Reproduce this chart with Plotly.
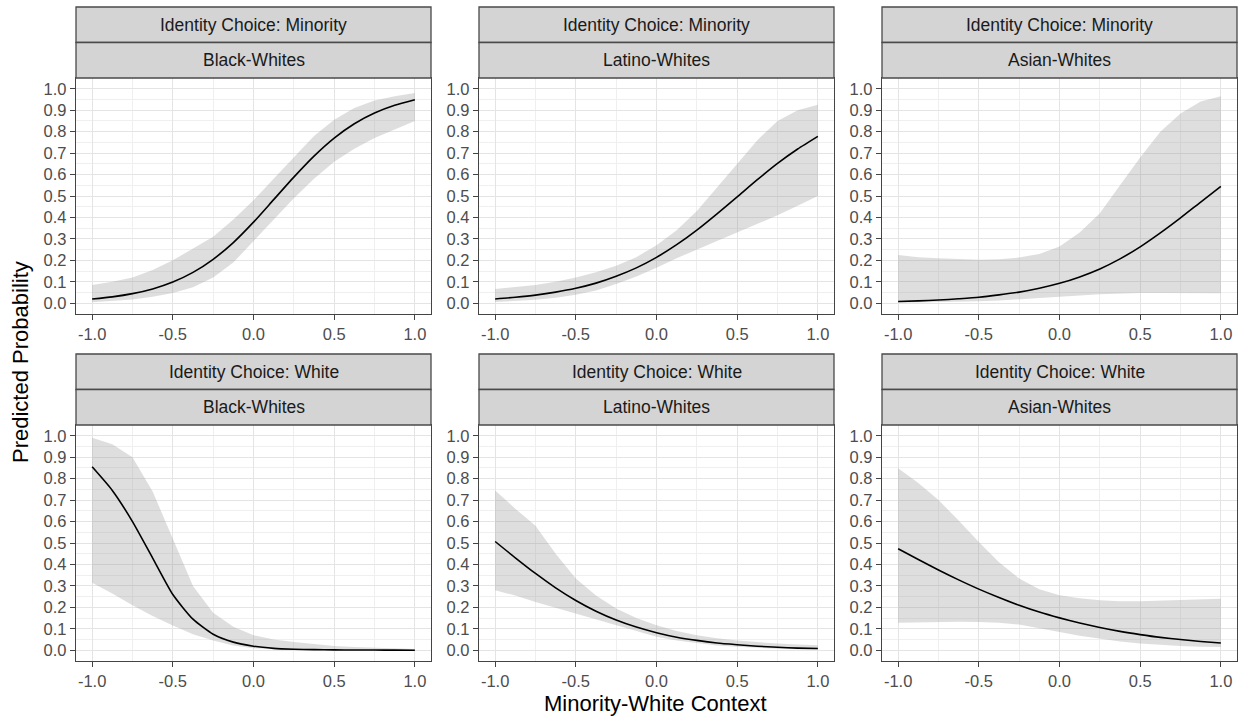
import plotly.graph_objects as go

# Minority-White context values at which predictions were computed
context = [-1.0, -0.875, -0.75, -0.625, -0.5, -0.375, -0.25, -0.125, 0.0,
           0.125, 0.25, 0.375, 0.5, 0.625, 0.75, 0.875, 1.0]

choice_labels = ["Identity Choice: Minority", "Identity Choice: White"]
group_labels = ["Black-Whites", "Latino-Whites", "Asian-Whites"]

# Identity choice: Minority
minority_black_fit = [0.020, 0.030, 0.045, 0.067, 0.099, 0.144, 0.205, 0.283, 0.378,
                      0.483, 0.588, 0.686, 0.770, 0.837, 0.887, 0.923, 0.949]
minority_black_lo = [0.005, 0.010, 0.018, 0.030, 0.048, 0.075, 0.120, 0.190, 0.290,
                     0.390, 0.490, 0.580, 0.660, 0.720, 0.770, 0.810, 0.850]
minority_black_hi = [0.085, 0.100, 0.120, 0.155, 0.200, 0.255, 0.310, 0.390, 0.480,
                     0.580, 0.680, 0.780, 0.855, 0.910, 0.945, 0.965, 0.980]

minority_latino_fit = [0.020, 0.028, 0.038, 0.052, 0.070, 0.094, 0.126, 0.165, 0.214,
                       0.273, 0.341, 0.417, 0.496, 0.576, 0.652, 0.719, 0.778]
minority_latino_lo = [0.006, 0.010, 0.016, 0.026, 0.040, 0.060, 0.090, 0.125, 0.165,
                      0.210, 0.250, 0.290, 0.330, 0.370, 0.410, 0.455, 0.500]
minority_latino_hi = [0.066, 0.075, 0.085, 0.100, 0.120, 0.145, 0.175, 0.215, 0.270,
                      0.340, 0.430, 0.540, 0.650, 0.760, 0.850, 0.900, 0.925]

minority_asian_fit = [0.008, 0.011, 0.015, 0.021, 0.028, 0.039, 0.052, 0.070, 0.093,
                      0.123, 0.160, 0.207, 0.263, 0.328, 0.398, 0.472, 0.545]
minority_asian_lo = [0.002, 0.003, 0.004, 0.006, 0.009, 0.013, 0.018, 0.023, 0.029,
                     0.036, 0.042, 0.046, 0.048, 0.048, 0.048, 0.047, 0.047]
minority_asian_hi = [0.225, 0.215, 0.210, 0.205, 0.203, 0.205, 0.213, 0.230, 0.265,
                     0.330, 0.420, 0.550, 0.680, 0.800, 0.885, 0.940, 0.965]

# Identity choice: White
white_black_fit = [0.855, 0.745, 0.600, 0.430, 0.260, 0.145, 0.075, 0.038, 0.019,
                   0.009, 0.005, 0.003, 0.002, 0.001, 0.001, 0.0005, 0.0003]
white_black_lo = [0.315, 0.265, 0.210, 0.160, 0.115, 0.075, 0.045, 0.022, 0.010,
                  0.005, 0.002, 0.001, 0.0005, 0.0002, 0.0001, 0.0, 0.0]
white_black_hi = [0.990, 0.960, 0.900, 0.740, 0.520, 0.300, 0.175, 0.110, 0.070,
                  0.050, 0.038, 0.028, 0.020, 0.015, 0.011, 0.008, 0.006]

white_latino_fit = [0.507, 0.431, 0.358, 0.291, 0.232, 0.182, 0.141, 0.108, 0.082,
                    0.061, 0.046, 0.034, 0.026, 0.019, 0.014, 0.010, 0.008]
white_latino_lo = [0.280, 0.255, 0.225, 0.198, 0.170, 0.143, 0.115, 0.088, 0.063,
                   0.045, 0.032, 0.022, 0.016, 0.011, 0.007, 0.005, 0.003]
white_latino_hi = [0.745, 0.660, 0.580, 0.450, 0.335, 0.255, 0.195, 0.150, 0.117,
                   0.090, 0.070, 0.056, 0.046, 0.038, 0.031, 0.027, 0.023]

white_asian_fit = [0.473, 0.423, 0.374, 0.328, 0.285, 0.246, 0.210, 0.178, 0.151,
                   0.127, 0.106, 0.088, 0.073, 0.060, 0.050, 0.041, 0.034]
white_asian_lo = [0.128, 0.130, 0.132, 0.133, 0.132, 0.128, 0.120, 0.104, 0.085,
                  0.068, 0.053, 0.041, 0.031, 0.025, 0.020, 0.017, 0.015]
white_asian_hi = [0.848, 0.780, 0.700, 0.605, 0.505, 0.410, 0.335, 0.285, 0.257,
                  0.242, 0.233, 0.229, 0.229, 0.231, 0.234, 0.237, 0.240]

x_ticks = [-1.0, -0.5, 0.0, 0.5, 1.0]
x_tick_text = ["-1.0", "-0.5", "0.0", "0.5", "1.0"]
y_ticks = [0.0, 0.1, 0.2, 0.3, 0.4, 0.5, 0.6, 0.7, 0.8, 0.9, 1.0]
y_tick_text = ["0.0", "0.1", "0.2", "0.3", "0.4", "0.5", "0.6", "0.7", "0.8", "0.9", "1.0"]

panels = [
    (0, 0, minority_black_fit, minority_black_lo, minority_black_hi),
    (0, 1, minority_latino_fit, minority_latino_lo, minority_latino_hi),
    (0, 2, minority_asian_fit, minority_asian_lo, minority_asian_hi),
    (1, 0, white_black_fit, white_black_lo, white_black_hi),
    (1, 1, white_latino_fit, white_latino_lo, white_latino_hi),
    (1, 2, white_asian_fit, white_asian_lo, white_asian_hi),
]

W, H = 1244, 719
FONT = "Liberation Sans, Arial, Helvetica, sans-serif"

# panel boxes in pixels
col_left = [76, 479, 882]
panel_w = 355
row_top = [78, 425]
panel_h = 236
strip_h = 35.5


def px_x(v):
    return v / W


def px_y(v):
    return 1 - v / H


fig = go.Figure()
shapes = []
annotations = []

for row, col, fit, lo, hi in panels:
    idx = row * 3 + col + 1
    xa = "x" if idx == 1 else f"x{idx}"
    ya = "y" if idx == 1 else f"y{idx}"

    fig.add_trace(go.Scatter(x=context, y=lo, xaxis=xa, yaxis=ya, mode="lines",
                             line=dict(width=0), hoverinfo="skip", showlegend=False))
    fig.add_trace(go.Scatter(x=context, y=hi, xaxis=xa, yaxis=ya, mode="lines",
                             line=dict(width=0), fill="tonexty",
                             fillcolor="rgba(153,153,153,0.32)",
                             hoverinfo="skip", showlegend=False))
    fig.add_trace(go.Scatter(x=context, y=fit, xaxis=xa, yaxis=ya, mode="lines",
                             line=dict(color="black", width=1.6, shape="spline",
                                       smoothing=0.6),
                             showlegend=False))

    left = col_left[col]
    top = row_top[row]
    xdom = [px_x(left), px_x(left + panel_w)]
    ydom = [px_y(top + panel_h), px_y(top)]

    axis_common = dict(
        showline=True, mirror=True, linecolor="#444444", linewidth=1.3,
        ticks="outside", ticklen=5, tickwidth=1.1, tickcolor="#444444",
        showgrid=True, gridcolor="#E4E4E4", gridwidth=1.4,
        zeroline=False,
        tickfont=dict(family=FONT, size=16.5, color="#4D4D4D"),
    )
    fig.update_layout(**{
        ("xaxis" if idx == 1 else f"xaxis{idx}"): dict(
            axis_common, domain=xdom, anchor=ya, range=[-1.1, 1.1],
            tickvals=x_ticks, ticktext=x_tick_text,
            minor=dict(tickvals=[-0.75, -0.25, 0.25, 0.75], showgrid=True,
                       gridcolor="#EFEFEF", gridwidth=1, ticks=""),
        ),
        ("yaxis" if idx == 1 else f"yaxis{idx}"): dict(
            axis_common, domain=ydom, anchor=xa, range=[-0.05, 1.05],
            tickvals=y_ticks, ticktext=y_tick_text,
            minor=dict(tickvals=[-0.05 + 0.1 * k for k in range(1, 11)] + [1.05],
                       showgrid=True, gridcolor="#EFEFEF", gridwidth=1, ticks=""),
        ),
    })

    # two stacked facet strips above each panel
    labels = [choice_labels[row], group_labels[col]]
    for s in range(2):
        s_top = top - 2 * strip_h + s * strip_h
        shapes.append(dict(type="rect", xref="paper", yref="paper",
                           x0=px_x(left), x1=px_x(left + panel_w),
                           y0=px_y(s_top + strip_h), y1=px_y(s_top),
                           fillcolor="#D4D4D4", line=dict(color="#4a4a4a", width=1.3),
                           layer="above"))
        annotations.append(dict(text=labels[s], xref="paper", yref="paper",
                                x=px_x(left + panel_w / 2), y=px_y(s_top + strip_h / 2),
                                xanchor="center", yanchor="middle", showarrow=False,
                                font=dict(family=FONT, size=17.5, color="#1A1A1A")))

annotations.append(dict(text="Minority-White Context", xref="paper", yref="paper",
                        x=px_x(656), y=px_y(703), xanchor="center", yanchor="middle",
                        showarrow=False, font=dict(family=FONT, size=22, color="black")))
annotations.append(dict(text="Predicted Probability", xref="paper", yref="paper",
                        x=px_x(20), y=px_y(362), xanchor="center", yanchor="middle",
                        textangle=-90, showarrow=False,
                        font=dict(family=FONT, size=22, color="black")))

fig.update_layout(
    width=W, height=H,
    margin=dict(l=0, r=0, t=0, b=0),
    paper_bgcolor="white", plot_bgcolor="white",
    shapes=shapes, annotations=annotations,
    showlegend=False,
)

fig.write_html("out.html")
